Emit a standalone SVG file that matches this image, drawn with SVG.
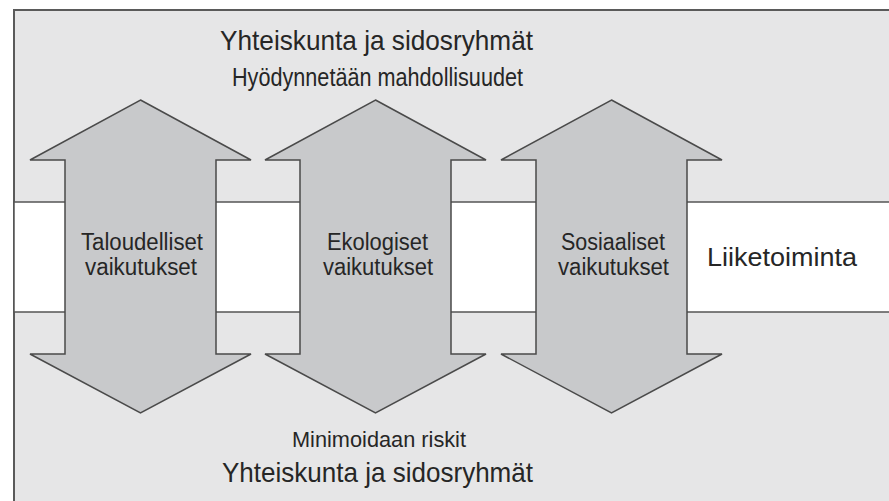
<svg xmlns="http://www.w3.org/2000/svg" width="889" height="501" viewBox="0 0 889 501">
<style>
.bg{fill:#e6e6e7;stroke:#5a5a5a;stroke-width:2}
.band{fill:#ffffff;stroke:#555;stroke-width:1.5}
.arr{fill:#c8c9cb;stroke:#4a4a4a;stroke-width:1.5;stroke-linejoin:miter}
text{font-family:"Liberation Sans",Arial,sans-serif;fill:#262626;text-anchor:middle}
.t1{font-size:28px}
.t2{font-size:25px}
.t3{font-size:22px}
.lab{font-size:23px}
</style>
<rect class="bg" x="14" y="10" width="890" height="510"/>
<g id="liiketoiminta">
<rect class="band" x="14" y="202" width="890" height="110"/>
<text class="t2" x="782" y="266" textLength="150" lengthAdjust="spacingAndGlyphs">Liiketoiminta</text>
</g>
<g id="connectors">
<path id="arrow-talous" class="arr" d="M140.5,100 L251,160 L216,160 L216,354 L251,354 L140.5,413 L30,354 L65,354 L65,160 L30,160 Z"/>
<path id="arrow-ekologia" class="arr" d="M375.5,100 L486,160 L451,160 L451,354 L486,354 L375.5,413 L265,354 L300,354 L300,160 L265,160 Z"/>
<path id="arrow-sosiaali" class="arr" d="M611.5,100 L722,160 L687,160 L687,354 L722,354 L611.5,413 L501,354 L536,354 L536,160 L501,160 Z"/>
</g>
<g id="taloudelliset">
<text class="lab" x="142" y="250" textLength="122" lengthAdjust="spacingAndGlyphs">Taloudelliset</text>
<text class="lab" x="141" y="275" textLength="112" lengthAdjust="spacingAndGlyphs">vaikutukset</text>
</g>
<g id="ekologiset">
<text class="lab" x="377.5" y="250" textLength="101" lengthAdjust="spacingAndGlyphs">Ekologiset</text>
<text class="lab" x="378" y="275" textLength="110" lengthAdjust="spacingAndGlyphs">vaikutukset</text>
</g>
<g id="sosiaaliset">
<text class="lab" x="613" y="250" textLength="104" lengthAdjust="spacingAndGlyphs">Sosiaaliset</text>
<text class="lab" x="613.5" y="275" textLength="111" lengthAdjust="spacingAndGlyphs">vaikutukset</text>
</g>
<g id="yhteiskunta-top">
<text class="t1" x="376.5" y="50" textLength="313" lengthAdjust="spacingAndGlyphs">Yhteiskunta ja sidosryhmät</text>
<text class="t2" x="377.5" y="86" textLength="291" lengthAdjust="spacingAndGlyphs">Hyödynnetään mahdollisuudet</text>
</g>
<g id="yhteiskunta-bottom">
<text class="t3" x="379" y="447" textLength="174" lengthAdjust="spacingAndGlyphs">Minimoidaan riskit</text>
<text class="t1" x="377.5" y="482" textLength="311" lengthAdjust="spacingAndGlyphs">Yhteiskunta ja sidosryhmät</text>
</g>
</svg>
